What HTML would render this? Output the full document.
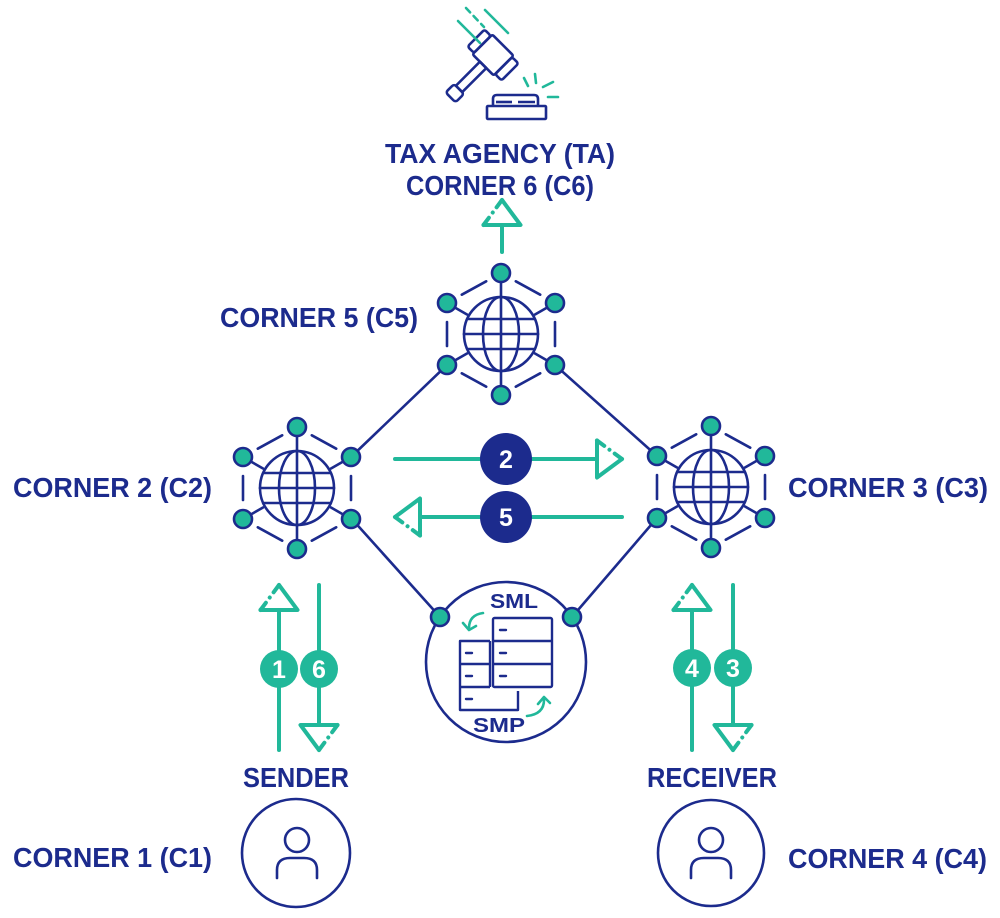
<!DOCTYPE html>
<html><head><meta charset="utf-8"><style>
html,body{margin:0;padding:0;background:#fff;}
svg{display:block;}
text{font-family:"Liberation Sans",Arial,sans-serif;font-weight:bold;}
</style></head><body>
<svg width="1000" height="918" viewBox="0 0 1000 918" xmlns="http://www.w3.org/2000/svg">
<defs>
<g id="node">
  <g stroke="#1c2b8d" stroke-width="2.6" fill="none" stroke-linecap="round">
    <line x1="14.8" y1="-52.7" x2="39.2" y2="-39.3"/>
    <line x1="-14.8" y1="-52.7" x2="-39.2" y2="-39.3"/>
    <line x1="14.8" y1="52.7" x2="39.2" y2="39.3"/>
    <line x1="-14.8" y1="52.7" x2="-39.2" y2="39.3"/>
    <line x1="54" y1="-12" x2="54" y2="12"/>
    <line x1="-54" y1="-12" x2="-54" y2="12"/>
    <line x1="0" y1="-52" x2="0" y2="-38"/>
    <line x1="0" y1="52" x2="0" y2="38"/>
    <line x1="-46" y1="-26.4" x2="-34" y2="-19.5"/>
    <line x1="46" y1="-26.4" x2="34" y2="-19.5"/>
    <line x1="-46" y1="26.4" x2="-34" y2="19.5"/>
    <line x1="46" y1="26.4" x2="34" y2="19.5"/>
    <circle cx="0" cy="0" r="37"/>
    <ellipse cx="0" cy="0" rx="18" ry="37"/>
    <line x1="0" y1="-37" x2="0" y2="37"/>
    <line x1="-37" y1="0" x2="37" y2="0"/>
    <line x1="-33.8" y1="-15" x2="33.8" y2="-15"/>
    <line x1="-33.8" y1="15" x2="33.8" y2="15"/>
  </g>
  <g fill="#21b89a" stroke="#1c2b8d" stroke-width="2.6">
    <circle cx="0" cy="-61" r="9"/>
    <circle cx="0" cy="61" r="9"/>
    <circle cx="-54" cy="-31" r="9"/>
    <circle cx="-54" cy="31" r="9"/>
    <circle cx="54" cy="-31" r="9"/>
    <circle cx="54" cy="31" r="9"/>
  </g>
</g>
</defs>

<!-- connection lines -->
<g stroke="#1c2b8d" stroke-width="2.6" fill="none">
  <line x1="447" y1="365" x2="351" y2="457"/>
  <line x1="555" y1="365" x2="657" y2="456"/>
  <line x1="351" y1="518" x2="440" y2="617"/>
  <line x1="657" y1="518" x2="572" y2="617"/>
</g>

<!-- nodes -->
<use href="#node" x="501" y="334"/>
<use href="#node" x="297" y="488"/>
<use href="#node" x="711" y="487"/>

<!-- SML circle -->
<circle cx="506" cy="662" r="80" fill="none" stroke="#1c2b8d" stroke-width="2.6"/>
<circle cx="440" cy="617" r="9" fill="#21b89a" stroke="#1c2b8d" stroke-width="2.6"/>
<circle cx="572" cy="617" r="9" fill="#21b89a" stroke="#1c2b8d" stroke-width="2.6"/>
<g stroke="#1c2b8d" stroke-width="2.4" fill="none" stroke-linejoin="round">
  <rect x="493" y="618" width="59" height="69" rx="1.5"/>
  <line x1="493" y1="641" x2="552" y2="641"/>
  <line x1="493" y1="664" x2="552" y2="664"/>
  <path d="M490,641 H460 V710 H518 V691"/>
  <line x1="490" y1="641" x2="490" y2="687"/>
  <line x1="460" y1="664" x2="490" y2="664"/>
  <line x1="460" y1="687" x2="490" y2="687"/>
  <g stroke-linecap="round">
  <line x1="500" y1="630" x2="506" y2="630"/>
  <line x1="500" y1="653" x2="506" y2="653"/>
  <line x1="500" y1="676" x2="506" y2="676"/>
  <line x1="466" y1="653" x2="472" y2="653"/>
  <line x1="466" y1="676" x2="472" y2="676"/>
  <line x1="466" y1="699" x2="472" y2="699"/>
  </g>
</g>
<g stroke="#21b89a" stroke-width="2.6" fill="none" stroke-linecap="round" stroke-linejoin="round">
  <path d="M483,613 Q469,615 469,628"/>
  <polyline points="463,623 469,630 476,626"/>
  <path d="M527,716 Q544,714 544,700"/>
  <polyline points="538,704 544,697 550,703"/>
</g>
<text x="514" y="608" font-size="20" fill="#1c2b8d" text-anchor="middle" textLength="48" lengthAdjust="spacingAndGlyphs">SML</text>
<text x="499" y="732" font-size="20" fill="#1c2b8d" text-anchor="middle" textLength="52" lengthAdjust="spacingAndGlyphs">SMP</text>

<!-- green arrows -->
<g stroke="#21b89a" stroke-width="4" fill="none" stroke-linecap="round" stroke-linejoin="round">
  <line x1="395" y1="459" x2="597" y2="459"/>
  <polyline points="622,459 597,477.5 597,440.5"/>
  <line x1="597" y1="440.5" x2="622" y2="459" stroke-dasharray="9 6.5 0.01 6.5 40"/>
  <line x1="420" y1="517" x2="622" y2="517"/>
  <polyline points="395,517 420,498.5 420,535.5"/>
  <line x1="420" y1="535.5" x2="395" y2="517" stroke-dasharray="9 6.5 0.01 6.5 40"/>
  <line x1="279" y1="610" x2="279" y2="750"/>
  <polyline points="279,585 297.5,610 260.5,610"/>
  <line x1="260.5" y1="610" x2="279" y2="585" stroke-dasharray="9 6.5 0.01 6.5 40"/>
  <line x1="319" y1="585" x2="319" y2="725"/>
  <polyline points="319,750 300.5,725 337.5,725"/>
  <line x1="337.5" y1="725" x2="319" y2="750" stroke-dasharray="9 6.5 0.01 6.5 40"/>
  <line x1="692" y1="610" x2="692" y2="750"/>
  <polyline points="692,585 710.5,610 673.5,610"/>
  <line x1="673.5" y1="610" x2="692" y2="585" stroke-dasharray="9 6.5 0.01 6.5 40"/>
  <line x1="733" y1="585" x2="733" y2="725"/>
  <polyline points="733,750 714.5,725 751.5,725"/>
  <line x1="751.5" y1="725" x2="733" y2="750" stroke-dasharray="9 6.5 0.01 6.5 40"/>
  <line x1="502" y1="225" x2="502" y2="252"/>
  <polyline points="502,200 520.5,225 483.5,225"/>
  <line x1="483.5" y1="225" x2="502" y2="200" stroke-dasharray="9 6.5 0.01 6.5 40"/>
</g>

<!-- number circles -->
<g fill="#1c2b8d">
  <circle cx="506" cy="459" r="26"/>
  <circle cx="506" cy="517" r="26"/>
</g>
<g fill="#21b89a">
  <circle cx="279" cy="669" r="19"/>
  <circle cx="319" cy="669" r="19"/>
  <circle cx="692" cy="668" r="19"/>
  <circle cx="733" cy="668" r="19"/>
</g>
<g fill="#fff" font-size="25" text-anchor="middle">
  <text x="506" y="468">2</text>
  <text x="506" y="526">5</text>
  <text x="279" y="678">1</text>
  <text x="319" y="678">6</text>
  <text x="692" y="677">4</text>
  <text x="733" y="677">3</text>
</g>

<!-- person circles -->
<g stroke="#1c2b8d" stroke-width="2.6" fill="none" stroke-linecap="round">
  <circle cx="296" cy="853" r="54"/>
  <circle cx="297" cy="840" r="12"/>
  <path d="M277,878 V870 Q277,858 290,858 H304 Q317,858 317,870 V878"/>
  <circle cx="711" cy="853" r="53"/>
  <circle cx="711" cy="840" r="12"/>
  <path d="M691,878 V870 Q691,858 704,858 H718 Q731,858 731,870 V878"/>
</g>

<!-- gavel -->
<g stroke="#1c2b8d" stroke-width="2.6" fill="none" stroke-linejoin="round">
  <g transform="translate(493,55) rotate(45)">
    <rect x="-15" y="-14" width="30" height="28" rx="2"/>
    <rect x="-24" y="-12" width="9" height="24" rx="2.5"/>
    <rect x="15" y="-12" width="9" height="24" rx="2.5"/>
    <rect x="-4.5" y="14" width="9" height="34"/>
    <rect x="-7" y="48" width="14" height="12" rx="3"/>
  </g>
  <path d="M493,106 V99 Q493,95 497,95 H534 Q538,95 538,99 V106"/>
  <rect x="487" y="106" width="59" height="13" rx="1"/>
  <line x1="496" y1="102" x2="512" y2="102"/>
  <line x1="518" y1="102" x2="535" y2="102"/>
</g>
<g stroke="#21b89a" stroke-width="2.6" fill="none" stroke-linecap="round">
  <line x1="466" y1="8" x2="484" y2="27" stroke-dasharray="6 5"/>
  <line x1="458" y1="21" x2="480" y2="43"/>
  <line x1="485" y1="10" x2="508" y2="33"/>
  <line x1="524" y1="78" x2="528" y2="86"/>
  <line x1="535" y1="74" x2="536" y2="83"/>
  <line x1="543" y1="87" x2="553" y2="82"/>
  <line x1="548" y1="97" x2="558" y2="97"/>
</g>

<!-- labels -->
<g fill="#1c2b8d" font-size="28">
  <text x="385" y="163" textLength="230" lengthAdjust="spacingAndGlyphs">TAX AGENCY (TA)</text>
  <text x="406" y="195" textLength="188" lengthAdjust="spacingAndGlyphs">CORNER 6 (C6)</text>
  <text x="220" y="327" textLength="198" lengthAdjust="spacingAndGlyphs">CORNER 5 (C5)</text>
  <text x="13" y="497" textLength="199" lengthAdjust="spacingAndGlyphs">CORNER 2 (C2)</text>
  <text x="788" y="497" textLength="200" lengthAdjust="spacingAndGlyphs">CORNER 3 (C3)</text>
  <text x="243" y="787" textLength="106" lengthAdjust="spacingAndGlyphs">SENDER</text>
  <text x="647" y="787" textLength="130" lengthAdjust="spacingAndGlyphs">RECEIVER</text>
  <text x="13" y="867" textLength="199" lengthAdjust="spacingAndGlyphs">CORNER 1 (C1)</text>
  <text x="788" y="868" textLength="199" lengthAdjust="spacingAndGlyphs">CORNER 4 (C4)</text>
</g>
</svg>
</body></html>
